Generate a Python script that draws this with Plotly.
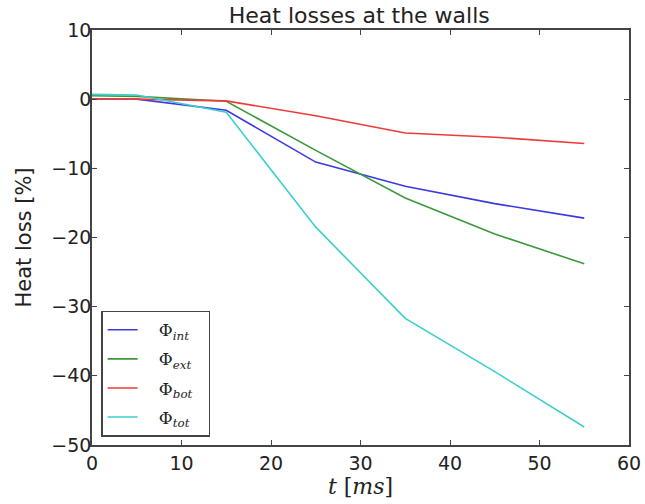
import plotly.graph_objects as go

t_ms = [0, 5, 15, 25, 35, 45, 55]
phi_int = [0.0, 0.0, -1.6, -9.1, -12.6, -15.1, -17.2]
phi_ext = [0.5, 0.4, -0.3, -7.4, -14.3, -19.5, -23.8]
phi_bot = [0.0, 0.0, -0.25, -2.4, -4.9, -5.5, -6.4]
phi_tot = [0.7, 0.6, -1.9, -18.5, -31.7, -39.4, -47.4]

series = [
    ("Φ<sub><i>int</i></sub>", phi_int, "#3a3ae0"),
    ("Φ<sub><i>ext</i></sub>", phi_ext, "#3a9a3a"),
    ("Φ<sub><i>bot</i></sub>", phi_bot, "#ee3a3a"),
    ("Φ<sub><i>tot</i></sub>", phi_tot, "#3ccfcf"),
]

pad = "\u00a0"
fig = go.Figure()
for i, (name, vals, col) in enumerate(series):
    fig.add_trace(go.Scatter(x=t_ms, y=vals, mode="lines",
                             name=pad * 3 + name + pad * 2,
                             legendgroup=f"g{i}",
                             line=dict(color=col, width=1.6)))

axis_common = dict(showgrid=False, zeroline=False, showline=True, linecolor="#444",
                   linewidth=1.5, mirror="ticks", ticks="inside", ticklen=5,
                   tickcolor="#444", automargin=False,
                   tickfont=dict(family="DejaVu Sans", size=19, color="#222"))

fig.update_layout(
    width=645, height=504,
    margin=dict(l=92, r=16, t=30, b=59),
    paper_bgcolor="white", plot_bgcolor="white",
    title=dict(text="Heat losses at the walls", x=0.557, xanchor="center", y=0.985, yanchor="top",
               font=dict(family="DejaVu Sans", size=22, color="#222")),
    xaxis=dict(range=[0, 60], dtick=10,
               title=dict(text="<i>t</i> [<i>ms</i>]", standoff=2,
                          font=dict(family="DejaVu Serif", size=22, color="#222")),
               **axis_common),
    yaxis=dict(range=[-50, 10], dtick=10, ticklabelstandoff=-5,
               title=dict(text="Heat loss [%]", standoff=14,
                          font=dict(family="DejaVu Sans", size=21, color="#222")),
               **axis_common),
    legend=dict(x=0.017, y=0.02, xanchor="left", yanchor="bottom",
                bordercolor="#444", borderwidth=1.5, bgcolor="white",
                font=dict(family="DejaVu Serif", size=17, color="#222"),
                tracegroupgap=4),
    showlegend=True,
)

fig.write_html("out.html", config={"displayModeBar": False},
               post_script="document.body.style.margin='0';document.body.style.overflow='hidden';")
